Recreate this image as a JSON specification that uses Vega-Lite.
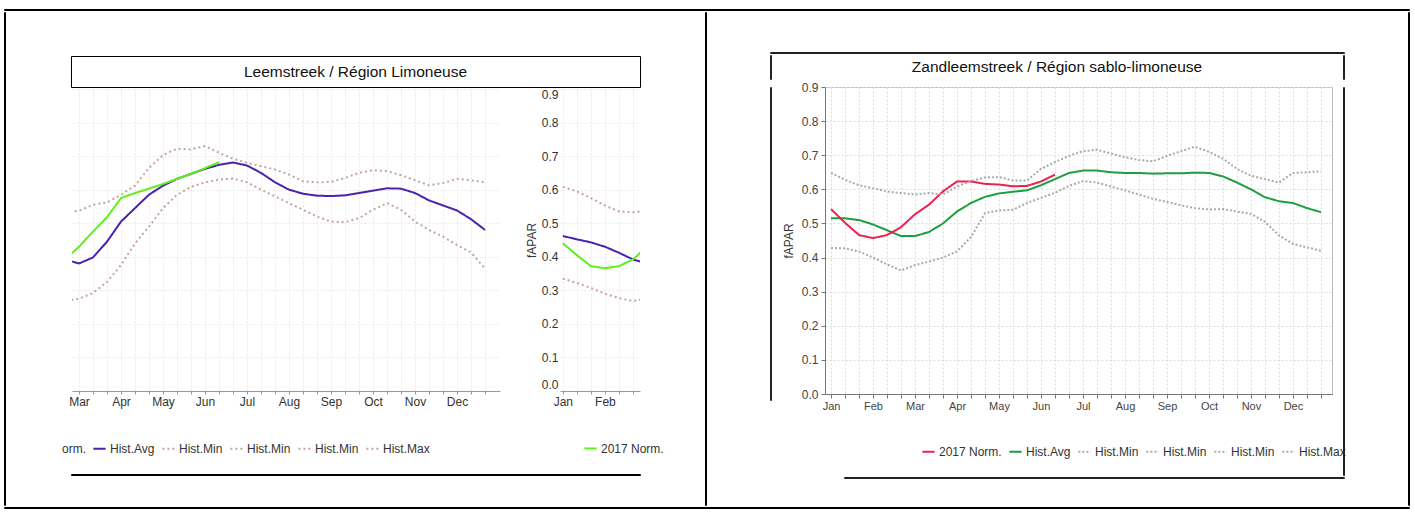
{
 "$schema": "https://vega.github.io/schema/vega-lite/v6.json",
 "padding": {"left": 3, "top": 8, "right": 0, "bottom": 0},
 "background": "white",
 "config": {
  "font": "Liberation Sans",
  "view": {"stroke": null},
  "legend": {"symbolType": "stroke", "symbolSize": 150, "symbolStrokeWidth": 2, "labelFontSize": 12, "labelColor": "#333", "labelOffset": 3, "columnPadding": 3, "padding": 0, "direction": "horizontal", "orient": "none", "title": null},
  "axis": {"labelFont": "Liberation Sans", "labelFontSize": 11, "labelColor": "#444", "titleFontWeight": "normal"}
 },
 "datasets": {
  "ttl": [{"t": "Leemstreek / Région Limoneuse"}],
  "rttl": [{"t": "Zandleemstreek / Région sablo-limoneuse"}],
  "left": [
   {"d":1,"s":"Hist.Avg","v":0.462},{"d":2,"s":"Hist.Avg","v":0.452},{"d":3,"s":"Hist.Avg","v":0.443},{"d":4,"s":"Hist.Avg","v":0.430},{"d":5,"s":"Hist.Avg","v":0.412},{"d":6,"s":"Hist.Avg","v":0.392},{"d":7,"s":"Hist.Avg","v":0.380},{"d":8,"s":"Hist.Avg","v":0.398},{"d":9,"s":"Hist.Avg","v":0.445},{"d":10,"s":"Hist.Avg","v":0.505},{"d":11,"s":"Hist.Avg","v":0.545},{"d":12,"s":"Hist.Avg","v":0.585},{"d":13,"s":"Hist.Avg","v":0.612},{"d":14,"s":"Hist.Avg","v":0.632},{"d":15,"s":"Hist.Avg","v":0.647},{"d":16,"s":"Hist.Avg","v":0.662},{"d":17,"s":"Hist.Avg","v":0.674},{"d":18,"s":"Hist.Avg","v":0.681},{"d":19,"s":"Hist.Avg","v":0.672},{"d":20,"s":"Hist.Avg","v":0.650},{"d":21,"s":"Hist.Avg","v":0.622},{"d":22,"s":"Hist.Avg","v":0.600},{"d":23,"s":"Hist.Avg","v":0.588},{"d":24,"s":"Hist.Avg","v":0.582},{"d":25,"s":"Hist.Avg","v":0.581},{"d":26,"s":"Hist.Avg","v":0.583},{"d":27,"s":"Hist.Avg","v":0.590},{"d":28,"s":"Hist.Avg","v":0.597},{"d":29,"s":"Hist.Avg","v":0.604},{"d":30,"s":"Hist.Avg","v":0.603},{"d":31,"s":"Hist.Avg","v":0.590},{"d":32,"s":"Hist.Avg","v":0.568},{"d":33,"s":"Hist.Avg","v":0.553},{"d":34,"s":"Hist.Avg","v":0.538},{"d":35,"s":"Hist.Avg","v":0.512},{"d":36,"s":"Hist.Avg","v":0.480},
   {"d":1,"s":"2017 Norm.","v":0.440},{"d":2,"s":"2017 Norm.","v":0.405},{"d":3,"s":"2017 Norm.","v":0.372},{"d":4,"s":"2017 Norm.","v":0.366},{"d":5,"s":"2017 Norm.","v":0.372},{"d":6,"s":"2017 Norm.","v":0.392},{"d":7,"s":"2017 Norm.","v":0.430},{"d":8,"s":"2017 Norm.","v":0.475},{"d":9,"s":"2017 Norm.","v":0.518},{"d":10,"s":"2017 Norm.","v":0.575},{"d":11,"s":"2017 Norm.","v":0.590},{"d":12,"s":"2017 Norm.","v":0.603},{"d":13,"s":"2017 Norm.","v":0.617},{"d":14,"s":"2017 Norm.","v":0.632},{"d":15,"s":"2017 Norm.","v":0.647},{"d":16,"s":"2017 Norm.","v":0.664},{"d":17,"s":"2017 Norm.","v":0.682},
   {"d":1,"s":"Hist.Max","v":0.608},{"d":2,"s":"Hist.Max","v":0.595},{"d":3,"s":"Hist.Max","v":0.575},{"d":4,"s":"Hist.Max","v":0.553},{"d":5,"s":"Hist.Max","v":0.535},{"d":6,"s":"Hist.Max","v":0.533},{"d":7,"s":"Hist.Max","v":0.537},{"d":8,"s":"Hist.Max","v":0.555},{"d":9,"s":"Hist.Max","v":0.562},{"d":10,"s":"Hist.Max","v":0.585},{"d":11,"s":"Hist.Max","v":0.612},{"d":12,"s":"Hist.Max","v":0.665},{"d":13,"s":"Hist.Max","v":0.703},{"d":14,"s":"Hist.Max","v":0.722},{"d":15,"s":"Hist.Max","v":0.720},{"d":16,"s":"Hist.Max","v":0.730},{"d":17,"s":"Hist.Max","v":0.710},{"d":18,"s":"Hist.Max","v":0.692},{"d":19,"s":"Hist.Max","v":0.680},{"d":20,"s":"Hist.Max","v":0.670},{"d":21,"s":"Hist.Max","v":0.660},{"d":22,"s":"Hist.Max","v":0.645},{"d":23,"s":"Hist.Max","v":0.625},{"d":24,"s":"Hist.Max","v":0.622},{"d":25,"s":"Hist.Max","v":0.623},{"d":26,"s":"Hist.Max","v":0.635},{"d":27,"s":"Hist.Max","v":0.650},{"d":28,"s":"Hist.Max","v":0.658},{"d":29,"s":"Hist.Max","v":0.655},{"d":30,"s":"Hist.Max","v":0.643},{"d":31,"s":"Hist.Max","v":0.628},{"d":32,"s":"Hist.Max","v":0.613},{"d":33,"s":"Hist.Max","v":0.620},{"d":34,"s":"Hist.Max","v":0.632},{"d":35,"s":"Hist.Max","v":0.628},{"d":36,"s":"Hist.Max","v":0.622},
   {"d":1,"s":"Hist.Min","v":0.335},{"d":2,"s":"Hist.Min","v":0.322},{"d":3,"s":"Hist.Min","v":0.307},{"d":4,"s":"Hist.Min","v":0.290},{"d":5,"s":"Hist.Min","v":0.277},{"d":6,"s":"Hist.Min","v":0.268},{"d":7,"s":"Hist.Min","v":0.275},{"d":8,"s":"Hist.Min","v":0.292},{"d":9,"s":"Hist.Min","v":0.325},{"d":10,"s":"Hist.Min","v":0.375},{"d":11,"s":"Hist.Min","v":0.440},{"d":12,"s":"Hist.Min","v":0.490},{"d":13,"s":"Hist.Min","v":0.545},{"d":14,"s":"Hist.Min","v":0.585},{"d":15,"s":"Hist.Min","v":0.608},{"d":16,"s":"Hist.Min","v":0.622},{"d":17,"s":"Hist.Min","v":0.630},{"d":18,"s":"Hist.Min","v":0.633},{"d":19,"s":"Hist.Min","v":0.622},{"d":20,"s":"Hist.Min","v":0.600},{"d":21,"s":"Hist.Min","v":0.580},{"d":22,"s":"Hist.Min","v":0.560},{"d":23,"s":"Hist.Min","v":0.540},{"d":24,"s":"Hist.Min","v":0.520},{"d":25,"s":"Hist.Min","v":0.505},{"d":26,"s":"Hist.Min","v":0.503},{"d":27,"s":"Hist.Min","v":0.515},{"d":28,"s":"Hist.Min","v":0.540},{"d":29,"s":"Hist.Min","v":0.560},{"d":30,"s":"Hist.Min","v":0.540},{"d":31,"s":"Hist.Min","v":0.505},{"d":32,"s":"Hist.Min","v":0.480},{"d":33,"s":"Hist.Min","v":0.460},{"d":34,"s":"Hist.Min","v":0.435},{"d":35,"s":"Hist.Min","v":0.413},{"d":36,"s":"Hist.Min","v":0.365}
  ],
  "right": [
   {"d":1,"s":"Hist.Avg","v":0.515},{"d":2,"s":"Hist.Avg","v":0.515},{"d":3,"s":"Hist.Avg","v":0.510},{"d":4,"s":"Hist.Avg","v":0.497},{"d":5,"s":"Hist.Avg","v":0.480},{"d":6,"s":"Hist.Avg","v":0.463},{"d":7,"s":"Hist.Avg","v":0.463},{"d":8,"s":"Hist.Avg","v":0.475},{"d":9,"s":"Hist.Avg","v":0.500},{"d":10,"s":"Hist.Avg","v":0.535},{"d":11,"s":"Hist.Avg","v":0.560},{"d":12,"s":"Hist.Avg","v":0.578},{"d":13,"s":"Hist.Avg","v":0.588},{"d":14,"s":"Hist.Avg","v":0.593},{"d":15,"s":"Hist.Avg","v":0.597},{"d":16,"s":"Hist.Avg","v":0.612},{"d":17,"s":"Hist.Avg","v":0.630},{"d":18,"s":"Hist.Avg","v":0.648},{"d":19,"s":"Hist.Avg","v":0.655},{"d":20,"s":"Hist.Avg","v":0.655},{"d":21,"s":"Hist.Avg","v":0.650},{"d":22,"s":"Hist.Avg","v":0.648},{"d":23,"s":"Hist.Avg","v":0.648},{"d":24,"s":"Hist.Avg","v":0.646},{"d":25,"s":"Hist.Avg","v":0.647},{"d":26,"s":"Hist.Avg","v":0.647},{"d":27,"s":"Hist.Avg","v":0.649},{"d":28,"s":"Hist.Avg","v":0.648},{"d":29,"s":"Hist.Avg","v":0.638},{"d":30,"s":"Hist.Avg","v":0.620},{"d":31,"s":"Hist.Avg","v":0.600},{"d":32,"s":"Hist.Avg","v":0.577},{"d":33,"s":"Hist.Avg","v":0.565},{"d":34,"s":"Hist.Avg","v":0.560},{"d":35,"s":"Hist.Avg","v":0.545},{"d":36,"s":"Hist.Avg","v":0.533},
   {"d":1,"s":"2017 Norm.","v":0.542},{"d":2,"s":"2017 Norm.","v":0.502},{"d":3,"s":"2017 Norm.","v":0.466},{"d":4,"s":"2017 Norm.","v":0.457},{"d":5,"s":"2017 Norm.","v":0.466},{"d":6,"s":"2017 Norm.","v":0.489},{"d":7,"s":"2017 Norm.","v":0.527},{"d":8,"s":"2017 Norm.","v":0.555},{"d":9,"s":"2017 Norm.","v":0.594},{"d":10,"s":"2017 Norm.","v":0.623},{"d":11,"s":"2017 Norm.","v":0.623},{"d":12,"s":"2017 Norm.","v":0.616},{"d":13,"s":"2017 Norm.","v":0.614},{"d":14,"s":"2017 Norm.","v":0.609},{"d":15,"s":"2017 Norm.","v":0.610},{"d":16,"s":"2017 Norm.","v":0.623},{"d":17,"s":"2017 Norm.","v":0.643},
   {"d":1,"s":"Hist.Max","v":0.648},{"d":2,"s":"Hist.Max","v":0.628},{"d":3,"s":"Hist.Max","v":0.612},{"d":4,"s":"Hist.Max","v":0.603},{"d":5,"s":"Hist.Max","v":0.594},{"d":6,"s":"Hist.Max","v":0.589},{"d":7,"s":"Hist.Max","v":0.585},{"d":8,"s":"Hist.Max","v":0.589},{"d":9,"s":"Hist.Max","v":0.585},{"d":10,"s":"Hist.Max","v":0.608},{"d":11,"s":"Hist.Max","v":0.624},{"d":12,"s":"Hist.Max","v":0.635},{"d":13,"s":"Hist.Max","v":0.636},{"d":14,"s":"Hist.Max","v":0.626},{"d":15,"s":"Hist.Max","v":0.626},{"d":16,"s":"Hist.Max","v":0.660},{"d":17,"s":"Hist.Max","v":0.680},{"d":18,"s":"Hist.Max","v":0.698},{"d":19,"s":"Hist.Max","v":0.712},{"d":20,"s":"Hist.Max","v":0.716},{"d":21,"s":"Hist.Max","v":0.705},{"d":22,"s":"Hist.Max","v":0.694},{"d":23,"s":"Hist.Max","v":0.686},{"d":24,"s":"Hist.Max","v":0.682},{"d":25,"s":"Hist.Max","v":0.698},{"d":26,"s":"Hist.Max","v":0.712},{"d":27,"s":"Hist.Max","v":0.725},{"d":28,"s":"Hist.Max","v":0.710},{"d":29,"s":"Hist.Max","v":0.690},{"d":30,"s":"Hist.Max","v":0.660},{"d":31,"s":"Hist.Max","v":0.640},{"d":32,"s":"Hist.Max","v":0.630},{"d":33,"s":"Hist.Max","v":0.620},{"d":34,"s":"Hist.Max","v":0.648},{"d":35,"s":"Hist.Max","v":0.650},{"d":36,"s":"Hist.Max","v":0.653},
   {"d":1,"s":"Hist.Min","v":0.428},{"d":2,"s":"Hist.Min","v":0.427},{"d":3,"s":"Hist.Min","v":0.418},{"d":4,"s":"Hist.Min","v":0.400},{"d":5,"s":"Hist.Min","v":0.380},{"d":6,"s":"Hist.Min","v":0.362},{"d":7,"s":"Hist.Min","v":0.378},{"d":8,"s":"Hist.Min","v":0.388},{"d":9,"s":"Hist.Min","v":0.400},{"d":10,"s":"Hist.Min","v":0.418},{"d":11,"s":"Hist.Min","v":0.460},{"d":12,"s":"Hist.Min","v":0.530},{"d":13,"s":"Hist.Min","v":0.538},{"d":14,"s":"Hist.Min","v":0.540},{"d":15,"s":"Hist.Min","v":0.560},{"d":16,"s":"Hist.Min","v":0.575},{"d":17,"s":"Hist.Min","v":0.590},{"d":18,"s":"Hist.Min","v":0.610},{"d":19,"s":"Hist.Min","v":0.624},{"d":20,"s":"Hist.Min","v":0.620},{"d":21,"s":"Hist.Min","v":0.608},{"d":22,"s":"Hist.Min","v":0.597},{"d":23,"s":"Hist.Min","v":0.585},{"d":24,"s":"Hist.Min","v":0.572},{"d":25,"s":"Hist.Min","v":0.563},{"d":26,"s":"Hist.Min","v":0.553},{"d":27,"s":"Hist.Min","v":0.545},{"d":28,"s":"Hist.Min","v":0.541},{"d":29,"s":"Hist.Min","v":0.542},{"d":30,"s":"Hist.Min","v":0.535},{"d":31,"s":"Hist.Min","v":0.528},{"d":32,"s":"Hist.Min","v":0.505},{"d":33,"s":"Hist.Min","v":0.465},{"d":34,"s":"Hist.Min","v":0.440},{"d":35,"s":"Hist.Min","v":0.430},{"d":36,"s":"Hist.Min","v":0.420}
  ]
 },
 "spacing": 0,
 "resolve": {"scale": {"color": "independent", "strokeDash": "independent", "strokeWidth": "independent", "x": "independent", "y": "independent"}, "legend": {"color": "independent", "strokeDash": "independent"}},
 "vconcat": [
  {"width": 1405, "height": 1, "data": {"values": []}, "mark": "point", "view": {"stroke": "#000", "strokeWidth": 1}},
  {"spacing": 0,
   "resolve": {"scale": {"color": "independent", "strokeDash": "independent", "strokeWidth": "independent", "x": "independent", "y": "independent"}, "legend": {"color": "independent", "strokeDash": "independent"}},
   "hconcat": [
   {"width": 1, "height": 493, "data": {"values": []}, "mark": "point", "view": {"stroke": "#000", "strokeWidth": 1}},
   {"spacing": 0,
    "resolve": {"scale": {"color": "independent", "strokeDash": "independent", "strokeWidth": "independent", "x": "independent", "y": "independent"}, "legend": {"color": "independent", "strokeDash": "independent"}},
    "vconcat": [
     {"width": 698, "height": 43, "data": {"values": []}, "mark": "point"},
     {"bounds": "flush", "spacing": 0, "hconcat": [
      {"width": 65, "height": 31, "data": {"values": []}, "mark": "point"},
      {"width": 569, "height": 31, "data": {"name": "ttl"}, "mark": {"type": "text", "fontSize": 15.5, "color": "#111"}, "encoding": {"text": {"field": "t"}}, "view": {"stroke": "#000", "strokeWidth": 1}}
     ]},
     {"bounds": "flush", "spacing": 0,
      "resolve": {"scale": {"color": "independent", "strokeDash": "independent", "strokeWidth": "independent", "x": "independent", "y": "independent"}, "legend": {"color": "independent", "strokeDash": "independent"}},
      "hconcat": [
      {"width": 66, "height": 302, "data": {"values": []}, "mark": "point"},
      {"width": 428, "height": 302, "data": {"name": "left"},
       "mark": {"type": "line", "clip": true},
       "encoding": {
        "x": {"field": "d", "type": "quantitative", "scale": {"domain": [6.5, 37.07], "nice": false, "zero": false},
              "axis": {"values": [7,8,9,10,11,12,13,14,15,16,17,18,19,20,21,22,23,24,25,26,27,28,29,30,31,32,33,34,35,36], "labelExpr": "(datum.value - 1) % 3 == 0 ? ['Jan','Feb','Mar','Apr','May','Jun','Jul','Aug','Sep','Oct','Nov','Dec'][(datum.value - 1) / 3] : ''", "title": null, "grid": true, "gridDash": [2, 2], "gridColor": "#e8e8e8", "domainColor": "#999", "tickColor": "#999", "tickSize": 3, "labelPadding": 2, "labelFontSize": 12, "labelColor": "#333", "labelOverlap": false, "labelFlush": false}},
        "y": {"field": "v", "type": "quantitative", "scale": {"domain": [0, 0.9], "nice": false, "zero": false},
              "axis": {"values": [0, 0.1, 0.2, 0.3, 0.4, 0.5, 0.6, 0.7, 0.8, 0.9], "labels": false, "ticks": false, "domain": false, "title": null, "grid": true, "gridDash": [2, 2], "gridColor": "#e8e8e8"}},
        "color": {"field": "s", "type": "nominal",
                  "scale": {"domain": ["2017 Norm.", "Hist.Avg", "Hist.Min", "Hist.Min2", "Hist.Min3", "Hist.Max", "orm."], "range": ["#5ef01c", "#4a22b0", "#c6a2a2", "#c6a2a2", "#c6a2a2", "#c6a2a2", "transparent"]},
                  "legend": {"values": ["orm.", "Hist.Avg", "Hist.Min", "Hist.Min2", "Hist.Min3", "Hist.Max"], "labelExpr": "datum.label == 'Hist.Min2' || datum.label == 'Hist.Min3' ? 'Hist.Min' : datum.label", "legendX": -28, "legendY": 352, "orient": "none", "direction": "horizontal"}},
        "strokeDash": {"field": "s", "type": "nominal",
                  "scale": {"domain": ["2017 Norm.", "Hist.Avg", "Hist.Min", "Hist.Min2", "Hist.Min3", "Hist.Max", "orm."], "range": [[1, 0], [1, 0], [2, 3], [2, 3], [2, 3], [2, 3], [1, 0]]},
                  "legend": {"values": ["orm.", "Hist.Avg", "Hist.Min", "Hist.Min2", "Hist.Min3", "Hist.Max"], "labelExpr": "datum.label == 'Hist.Min2' || datum.label == 'Hist.Min3' ? 'Hist.Min' : datum.label", "legendX": -28, "legendY": 352, "orient": "none", "direction": "horizontal"}},
        "strokeWidth": {"field": "s", "type": "nominal",
                  "scale": {"domain": ["2017 Norm.", "Hist.Avg", "Hist.Min", "Hist.Min2", "Hist.Min3", "Hist.Max", "orm."], "range": [2, 2, 1.3, 1.3, 1.3, 1.3, 2]}, "legend": null}
       }},
      {"width": 60, "height": 302, "data": {"values": []}, "mark": "point"},
      {"width": 80, "height": 302, "data": {"name": "left"},
       "mark": {"type": "line", "clip": true},
       "encoding": {
        "x": {"field": "d", "type": "quantitative", "scale": {"domain": [0.8, 6.5], "nice": false, "zero": false},
              "axis": {"values": [1,2,3,4,5,6], "labelExpr": "(datum.value - 1) % 3 == 0 ? ['Jan','Feb','Mar','Apr','May','Jun','Jul','Aug','Sep','Oct','Nov','Dec'][(datum.value - 1) / 3] : ''", "title": null, "grid": true, "gridDash": [2, 2], "gridColor": "#e8e8e8", "domainColor": "#999", "tickColor": "#999", "tickSize": 3, "labelPadding": 2, "labelFontSize": 12, "labelColor": "#333", "labelOverlap": false, "labelFlush": false}},
        "y": {"field": "v", "type": "quantitative", "scale": {"domain": [0, 0.9], "nice": false, "zero": false},
              "axis": {"values": [0, 0.1, 0.2, 0.3, 0.4, 0.5, 0.6, 0.7, 0.8, 0.9], "format": ".1f", "labelFontSize": 12, "labelColor": "#333", "labelPadding": 2, "labelFlush": true, "ticks": false, "domain": false, "title": "fAPAR", "titleFontSize": 12, "titleColor": "#333", "titlePadding": 3, "grid": true, "gridDash": [2, 2], "gridColor": "#e8e8e8"}},
        "color": {"field": "s", "type": "nominal",
                  "scale": {"domain": ["2017 Norm.", "Hist.Avg", "Hist.Min", "Hist.Min2", "Hist.Min3", "Hist.Max", "orm."], "range": ["#5ef01c", "#4a22b0", "#c6a2a2", "#c6a2a2", "#c6a2a2", "#c6a2a2", "transparent"]},
                  "legend": {"values": ["2017 Norm."], "legendX": 23, "legendY": 352, "orient": "none", "direction": "horizontal"}},
        "strokeDash": {"field": "s", "type": "nominal",
                  "scale": {"domain": ["2017 Norm.", "Hist.Avg", "Hist.Min", "Hist.Min2", "Hist.Min3", "Hist.Max", "orm."], "range": [[1, 0], [1, 0], [2, 3], [2, 3], [2, 3], [2, 3], [1, 0]]},
                  "legend": {"values": ["2017 Norm."], "legendX": 23, "legendY": 352, "orient": "none", "direction": "horizontal"}},
        "strokeWidth": {"field": "s", "type": "nominal",
                  "scale": {"domain": ["2017 Norm.", "Hist.Avg", "Hist.Min", "Hist.Min2", "Hist.Min3", "Hist.Max", "orm."], "range": [2, 2, 1.3, 1.3, 1.3, 1.3, 2]}, "legend": null}
       }}
     ]},
     {"width": 1, "height": 18, "data": {"values": []}, "mark": "point"},
     {"bounds": "flush", "spacing": 0, "hconcat": [
      {"width": 65, "height": 1, "data": {"values": []}, "mark": "point"},
      {"width": 569, "height": 1, "data": {"values": []}, "mark": "point", "view": {"stroke": "#000", "strokeWidth": 1}}
     ]}
    ]},
   {"width": 1, "height": 493, "data": {"values": []}, "mark": "point", "view": {"stroke": "#000", "strokeWidth": 1}},
   {"spacing": 0,
    "resolve": {"scale": {"color": "independent", "strokeDash": "independent", "strokeWidth": "independent", "x": "independent", "y": "independent"}, "legend": {"color": "independent", "strokeDash": "independent"}},
    "vconcat": [
     {"width": 700, "height": 39, "data": {"values": []}, "mark": "point"},
     {"bounds": "flush", "spacing": 0, "hconcat": [
      {"width": 63, "height": 1, "data": {"values": []}, "mark": "point"},
      {"width": 574, "height": 1, "data": {"values": []}, "mark": "point", "view": {"stroke": "#222", "strokeWidth": 1}}
     ]},
     {"bounds": "flush", "spacing": 0, "hconcat": [
      {"width": 63, "height": 24, "data": {"values": []}, "mark": "point"},
      {"width": 1, "height": 24, "data": {"values": []}, "mark": "point", "view": {"stroke": "#222", "strokeWidth": 1}},
      {"width": 572, "height": 24, "data": {"name": "rttl"}, "mark": {"type": "text", "fontSize": 15.5, "color": "#111"}, "encoding": {"text": {"field": "t"}}},
      {"width": 1, "height": 24, "data": {"values": []}, "mark": "point", "view": {"stroke": "#222", "strokeWidth": 1}}
     ]},
     {"bounds": "flush", "spacing": 0,
      "resolve": {"scale": {"color": "independent", "strokeDash": "independent", "strokeWidth": "independent", "x": "independent", "y": "independent"}, "legend": {"color": "independent", "strokeDash": "independent"}},
      "hconcat": [
      {"width": 63, "height": 1, "data": {"values": []}, "mark": "point"},
      {"width": 1, "height": 313, "data": {"values": []}, "mark": "point", "view": {"stroke": "#222", "strokeWidth": 1}},
      {"width": 54, "height": 1, "data": {"values": []}, "mark": "point"},
      {"width": 507, "height": 307, "data": {"name": "right"},
       "view": {"stroke": "#bbb", "strokeWidth": 1},
       "mark": {"type": "line", "clip": true},
       "encoding": {
        "x": {"field": "d", "type": "quantitative", "scale": {"domain": [0.57, 36.79], "nice": false, "zero": false},
              "axis": {"values": [1,2,3,4,5,6,7,8,9,10,11,12,13,14,15,16,17,18,19,20,21,22,23,24,25,26,27,28,29,30,31,32,33,34,35,36], "labelExpr": "(datum.value - 1) % 3 == 0 ? ['Jan','Feb','Mar','Apr','May','Jun','Jul','Aug','Sep','Oct','Nov','Dec'][(datum.value - 1) / 3] : ''", "title": null, "grid": true, "gridDash": [2, 2], "gridColor": "#dddddd", "domainColor": "#777", "tickColor": "#777", "tickSize": 4, "labelPadding": 2, "labelFontSize": 11, "labelColor": "#444", "labelOverlap": false, "labelFlush": false}},
        "y": {"field": "v", "type": "quantitative", "scale": {"domain": [0, 0.9], "nice": false, "zero": false},
              "axis": {"values": [0, 0.1, 0.2, 0.3, 0.4, 0.5, 0.6, 0.7, 0.8, 0.9], "format": ".1f", "labelFontSize": 12, "labelColor": "#444", "labelPadding": 3, "tickSize": 4, "domainColor": "#777", "tickColor": "#777", "title": "fAPAR", "titleFontSize": 12, "titleColor": "#333", "titlePadding": 6, "grid": true, "gridDash": [2, 2], "gridColor": "#dddddd"}},
        "color": {"field": "s", "type": "nominal",
                  "scale": {"domain": ["2017 Norm.", "Hist.Avg", "Hist.Min", "Hist.Min2", "Hist.Min3", "Hist.Max"], "range": ["#ee2050", "#1e9e40", "#aaaaaa", "#aaaaaa", "#aaaaaa", "#aaaaaa"]},
                  "legend": {"labelExpr": "datum.label == 'Hist.Min2' || datum.label == 'Hist.Min3' ? 'Hist.Min' : datum.label", "legendX": 96, "legendY": 357, "orient": "none", "direction": "horizontal"}},
        "strokeDash": {"field": "s", "type": "nominal",
                  "scale": {"domain": ["2017 Norm.", "Hist.Avg", "Hist.Min", "Hist.Min2", "Hist.Min3", "Hist.Max"], "range": [[1, 0], [1, 0], [2, 2], [2, 2], [2, 2], [2, 2]]},
                  "legend": {"labelExpr": "datum.label == 'Hist.Min2' || datum.label == 'Hist.Min3' ? 'Hist.Min' : datum.label", "legendX": 96, "legendY": 357, "orient": "none", "direction": "horizontal"}},
        "strokeWidth": {"field": "s", "type": "nominal",
                  "scale": {"domain": ["2017 Norm.", "Hist.Avg", "Hist.Min", "Hist.Min2", "Hist.Min3", "Hist.Max"], "range": [2, 2, 1.3, 1.3, 1.3, 1.3]}, "legend": null}
       }},
      {"width": 11, "height": 1, "data": {"values": []}, "mark": "point"},
      {"width": 1, "height": 388, "data": {"values": []}, "mark": "point", "view": {"stroke": "#222", "strokeWidth": 1}}
     ]},
     {"bounds": "flush", "spacing": 0, "hconcat": [
      {"width": 137, "height": 1, "data": {"values": []}, "mark": "point"},
      {"width": 500, "height": 1, "data": {"values": []}, "mark": "point", "view": {"stroke": "#222", "strokeWidth": 1}}
     ]}
    ]},
   {"width": 1, "height": 493, "data": {"values": []}, "mark": "point", "view": {"stroke": "#000", "strokeWidth": 1}}
  ]},
  {"width": 1405, "height": 1, "data": {"values": []}, "mark": "point", "view": {"stroke": "#000", "strokeWidth": 1}}
 ]
}
